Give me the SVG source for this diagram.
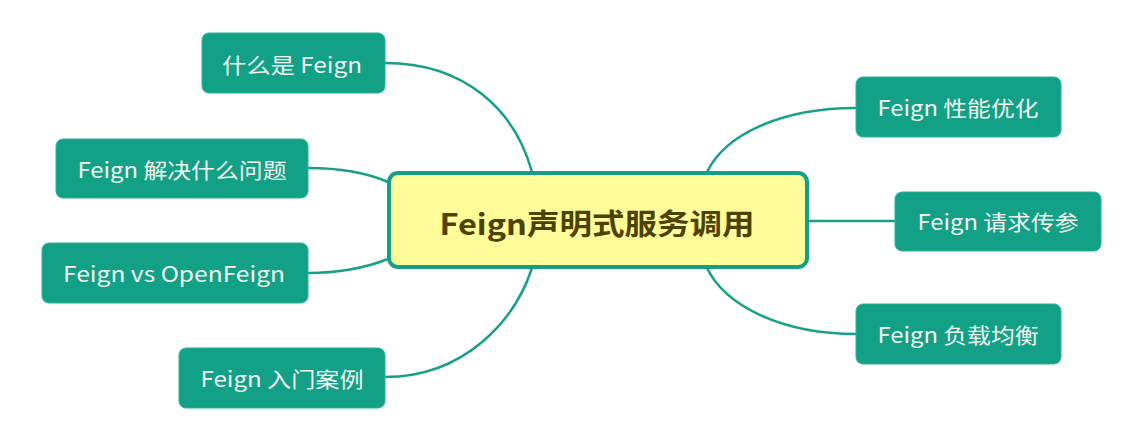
<svg xmlns="http://www.w3.org/2000/svg" width="1138" height="425" viewBox="0 0 1138 425">
<style>
.bg{fill:#ffffff}
.node rect{fill:#12A087;stroke:#2BB39A;stroke-width:1}
.node text{fill:#F2F7EE;font-family:"Noto Sans CJK SC","Microsoft YaHei",sans-serif;font-size:21px;text-anchor:middle;dominant-baseline:central}
.center rect{fill:#FEFD99;stroke:#15A085;stroke-width:4}
.center text{fill:#4F4200;font-family:"Noto Sans CJK SC","Microsoft YaHei",sans-serif;font-size:29px;font-weight:bold;text-anchor:middle;dominant-baseline:central}
.conn path{fill:none;stroke:#17A087;stroke-width:2.5}
</style>
<rect class="bg" x="0" y="0" width="1138" height="425"/>
<g id="connectors" class="conn">
<path d="M385,63 C465,63 515,110 532,172"/>
<path d="M308,168 C340,168 365,172 388,182"/>
<path d="M308,273 C340,273 365,268 388,259"/>
<path d="M385,377 C465,377 515,320 532,268"/>
<path d="M856,108 C780,108 725,135 707,172"/>
<path d="M808,221 L895,221"/>
<path d="M707,268 C725,305 780,334 856,334"/>
</g>
<g id="center" class="center">
<rect x="389" y="173" width="418" height="94" rx="9"/>
<text x="597" y="222" textLength="315" lengthAdjust="spacingAndGlyphs">Feign声明式服务调用</text>
</g>
<g id="n-what" class="node">
<rect x="202" y="33" width="183" height="60" rx="7"/>
<text x="292" y="64" textLength="140" lengthAdjust="spacingAndGlyphs">什么是 Feign</text>
</g>
<g id="n-solve" class="node">
<rect x="56" y="139" width="252" height="59" rx="7"/>
<text x="182" y="169" textLength="209" lengthAdjust="spacingAndGlyphs">Feign 解决什么问题</text>
</g>
<g id="n-vs" class="node">
<rect x="42" y="243" width="266" height="60" rx="7"/>
<text x="174" y="273" textLength="222" lengthAdjust="spacingAndGlyphs">Feign vs OpenFeign</text>
</g>
<g id="n-start" class="node">
<rect x="179" y="348" width="206" height="60" rx="7"/>
<text x="282" y="378" textLength="163" lengthAdjust="spacingAndGlyphs">Feign 入门案例</text>
</g>
<g id="n-perf" class="node">
<rect x="856" y="77" width="205" height="60" rx="7"/>
<text x="958" y="107" textLength="161" lengthAdjust="spacingAndGlyphs">Feign 性能优化</text>
</g>
<g id="n-param" class="node">
<rect x="895" y="192" width="206" height="59" rx="7"/>
<text x="998" y="221" textLength="161" lengthAdjust="spacingAndGlyphs">Feign 请求传参</text>
</g>
<g id="n-lb" class="node">
<rect x="856" y="304" width="205" height="60" rx="7"/>
<text x="958" y="334" textLength="161" lengthAdjust="spacingAndGlyphs">Feign 负载均衡</text>
</g>
</svg>
